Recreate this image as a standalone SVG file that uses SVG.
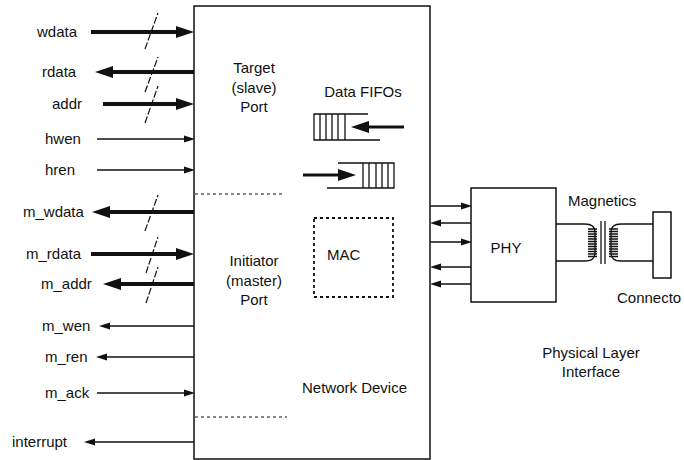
<svg xmlns="http://www.w3.org/2000/svg" width="684" height="460" viewBox="0 0 684 460">
<style>
text{font-family:"Liberation Sans",Arial,sans-serif;font-size:15px;fill:#111}
.box{fill:none;stroke:#111;stroke-width:1.5}
.thick{stroke:#111;stroke-width:4;fill:none}
.thin{stroke:#111;stroke-width:1.3;fill:none}
.slash{stroke:#111;stroke-width:1.2;stroke-dasharray:7 2;fill:none}
.dash{stroke:#111;stroke-width:1.2;stroke-dasharray:3 3;fill:none}
.dot{stroke:#111;stroke-width:1.8;stroke-dasharray:3 3;fill:none}
.fifo{stroke:#111;stroke-width:1.3;fill:none}
.mid{text-anchor:middle}
</style>
<defs>
<marker id="big" markerUnits="userSpaceOnUse" markerWidth="18" markerHeight="12" refX="8" refY="6" orient="auto">
<path d="M0,0 L18,6 L0,12 z" fill="#111"/>
</marker>
<marker id="small" markerUnits="userSpaceOnUse" markerWidth="11" markerHeight="8" refX="5" refY="4" orient="auto">
<path d="M0,0.5 L11,4 L0,7.5 z" fill="#111"/>
</marker>
</defs>

<g id="network-device">
<rect class="box" x="194" y="6" width="236" height="453"/>
<line class="dash" x1="195" y1="194" x2="284" y2="194"/>
<line class="dash" x1="195" y1="417" x2="287" y2="417"/>
<text x="302" y="393">Network Device</text>
</g>

<g id="target-port">
<text class="mid" x="254" y="73">Target</text>
<text class="mid" x="254" y="93">(slave)</text>
<text class="mid" x="254" y="112">Port</text>
</g>

<g id="initiator-port">
<text class="mid" x="254" y="266">Initiator</text>
<text class="mid" x="254" y="286">(master)</text>
<text class="mid" x="254" y="305">Port</text>
</g>

<g id="data-fifos">
<text class="mid" x="363" y="97">Data FIFOs</text>
<path class="fifo" d="M368,114 L314,114 L314,140 L380,140 M320,114 V140 M326,114 V140 M332,114 V140 M338,114 V140 M345,114 V140"/>
<path class="fifo" d="M338,163 L394,163 L394,188 L327,188 M363,163 V188 M369,163 V188 M376,163 V188 M382,163 V188 M388,163 V188"/>
<line x1="404" y1="127" x2="361" y2="127" stroke="#111" stroke-width="3" marker-end="url(#big)"/>
<line x1="303" y1="175" x2="346" y2="175" stroke="#111" stroke-width="3" marker-end="url(#big)"/>
</g>

<g id="mac">
<rect class="dot" x="314" y="218" width="79" height="79"/>
<text x="327" y="260">MAC</text>
</g>

<g id="phy">
<rect class="box" x="471" y="188" width="85" height="114"/>
<text class="mid" x="506" y="253">PHY</text>
</g>

<g id="magnetics">
<text x="568" y="206">Magnetics</text>
<path class="thin" d="M556,224 H585 Q595,224 595,232 V253 Q595,261 585,261 H556"/>
<path class="thin" d="M588,229 H597 M588,231.5 H597 M588,234 H597 M588,236.5 H597 M588,239 H597 M588,241.5 H597 M588,244 H597 M588,246.5 H597 M588,249 H597 M588,251.5 H597 M588,254 H597 M588,256.5 H597"/>
<line class="thin" x1="601" y1="221" x2="601" y2="264"/>
<line class="thin" x1="605" y1="221" x2="605" y2="264"/>
<path class="thin" d="M653,224 H621 Q611,224 611,232 V253 Q611,261 621,261 H653"/>
<path class="thin" d="M609,229 H618 M609,231.5 H618 M609,234 H618 M609,236.5 H618 M609,239 H618 M609,241.5 H618 M609,244 H618 M609,246.5 H618 M609,249 H618 M609,251.5 H618 M609,254 H618 M609,256.5 H618"/>
</g>

<g id="connector">
<rect class="box" x="653" y="212" width="18" height="66"/>
<text x="617" y="303">Connecto</text>
</g>

<g id="physical-layer-interface">
<text class="mid" x="591" y="358">Physical Layer</text>
<text class="mid" x="591" y="377">Interface</text>
</g>

<g id="signal-labels">
<text x="37" y="37">wdata</text>
<text x="42" y="77">rdata</text>
<text x="52" y="109">addr</text>
<text x="45" y="144">hwen</text>
<text x="45" y="175">hren</text>
<text x="23" y="217">m_wdata</text>
<text x="26" y="259">m_rdata</text>
<text x="41" y="289">m_addr</text>
<text x="42" y="331">m_wen</text>
<text x="45" y="362">m_ren</text>
<text x="45" y="398">m_ack</text>
<text x="12" y="447">interrupt</text>
</g>

<g id="connectors">
<line class="thick" x1="91" y1="32" x2="184" y2="32" marker-end="url(#big)"/>
<line class="thick" x1="194" y1="72" x2="105" y2="72" marker-end="url(#big)"/>
<line class="thick" x1="103" y1="104" x2="184" y2="104" marker-end="url(#big)"/>
<line class="thin" x1="97" y1="139" x2="189" y2="139" marker-end="url(#small)"/>
<line class="thin" x1="97" y1="170" x2="189" y2="170" marker-end="url(#small)"/>
<line class="thick" x1="194" y1="212" x2="102" y2="212" marker-end="url(#big)"/>
<line class="thick" x1="91" y1="254" x2="184" y2="254" marker-end="url(#big)"/>
<line class="thick" x1="194" y1="284" x2="113" y2="284" marker-end="url(#big)"/>
<line class="thin" x1="194" y1="326" x2="105" y2="326" marker-end="url(#small)"/>
<line class="thin" x1="194" y1="357" x2="102" y2="357" marker-end="url(#small)"/>
<line class="thin" x1="97" y1="393" x2="189" y2="393" marker-end="url(#small)"/>
<line class="thin" x1="194" y1="442" x2="90" y2="442" marker-end="url(#small)"/>
<line class="slash" x1="145" y1="49" x2="158" y2="13"/>
<line class="slash" x1="145" y1="92" x2="158" y2="57"/>
<line class="slash" x1="145" y1="123" x2="158" y2="86"/>
<line class="slash" x1="145" y1="231" x2="158" y2="195"/>
<line class="slash" x1="146" y1="273" x2="158" y2="237"/>
<line class="slash" x1="146" y1="303" x2="158" y2="267"/>
<line class="thin" x1="430" y1="206" x2="466" y2="206" marker-end="url(#small)"/>
<line class="thin" x1="471" y1="223" x2="436" y2="223" marker-end="url(#small)"/>
<line class="thin" x1="430" y1="242" x2="466" y2="242" marker-end="url(#small)"/>
<line class="thin" x1="471" y1="267" x2="436" y2="267" marker-end="url(#small)"/>
<line class="thin" x1="471" y1="284" x2="436" y2="284" marker-end="url(#small)"/>
</g>
</svg>
